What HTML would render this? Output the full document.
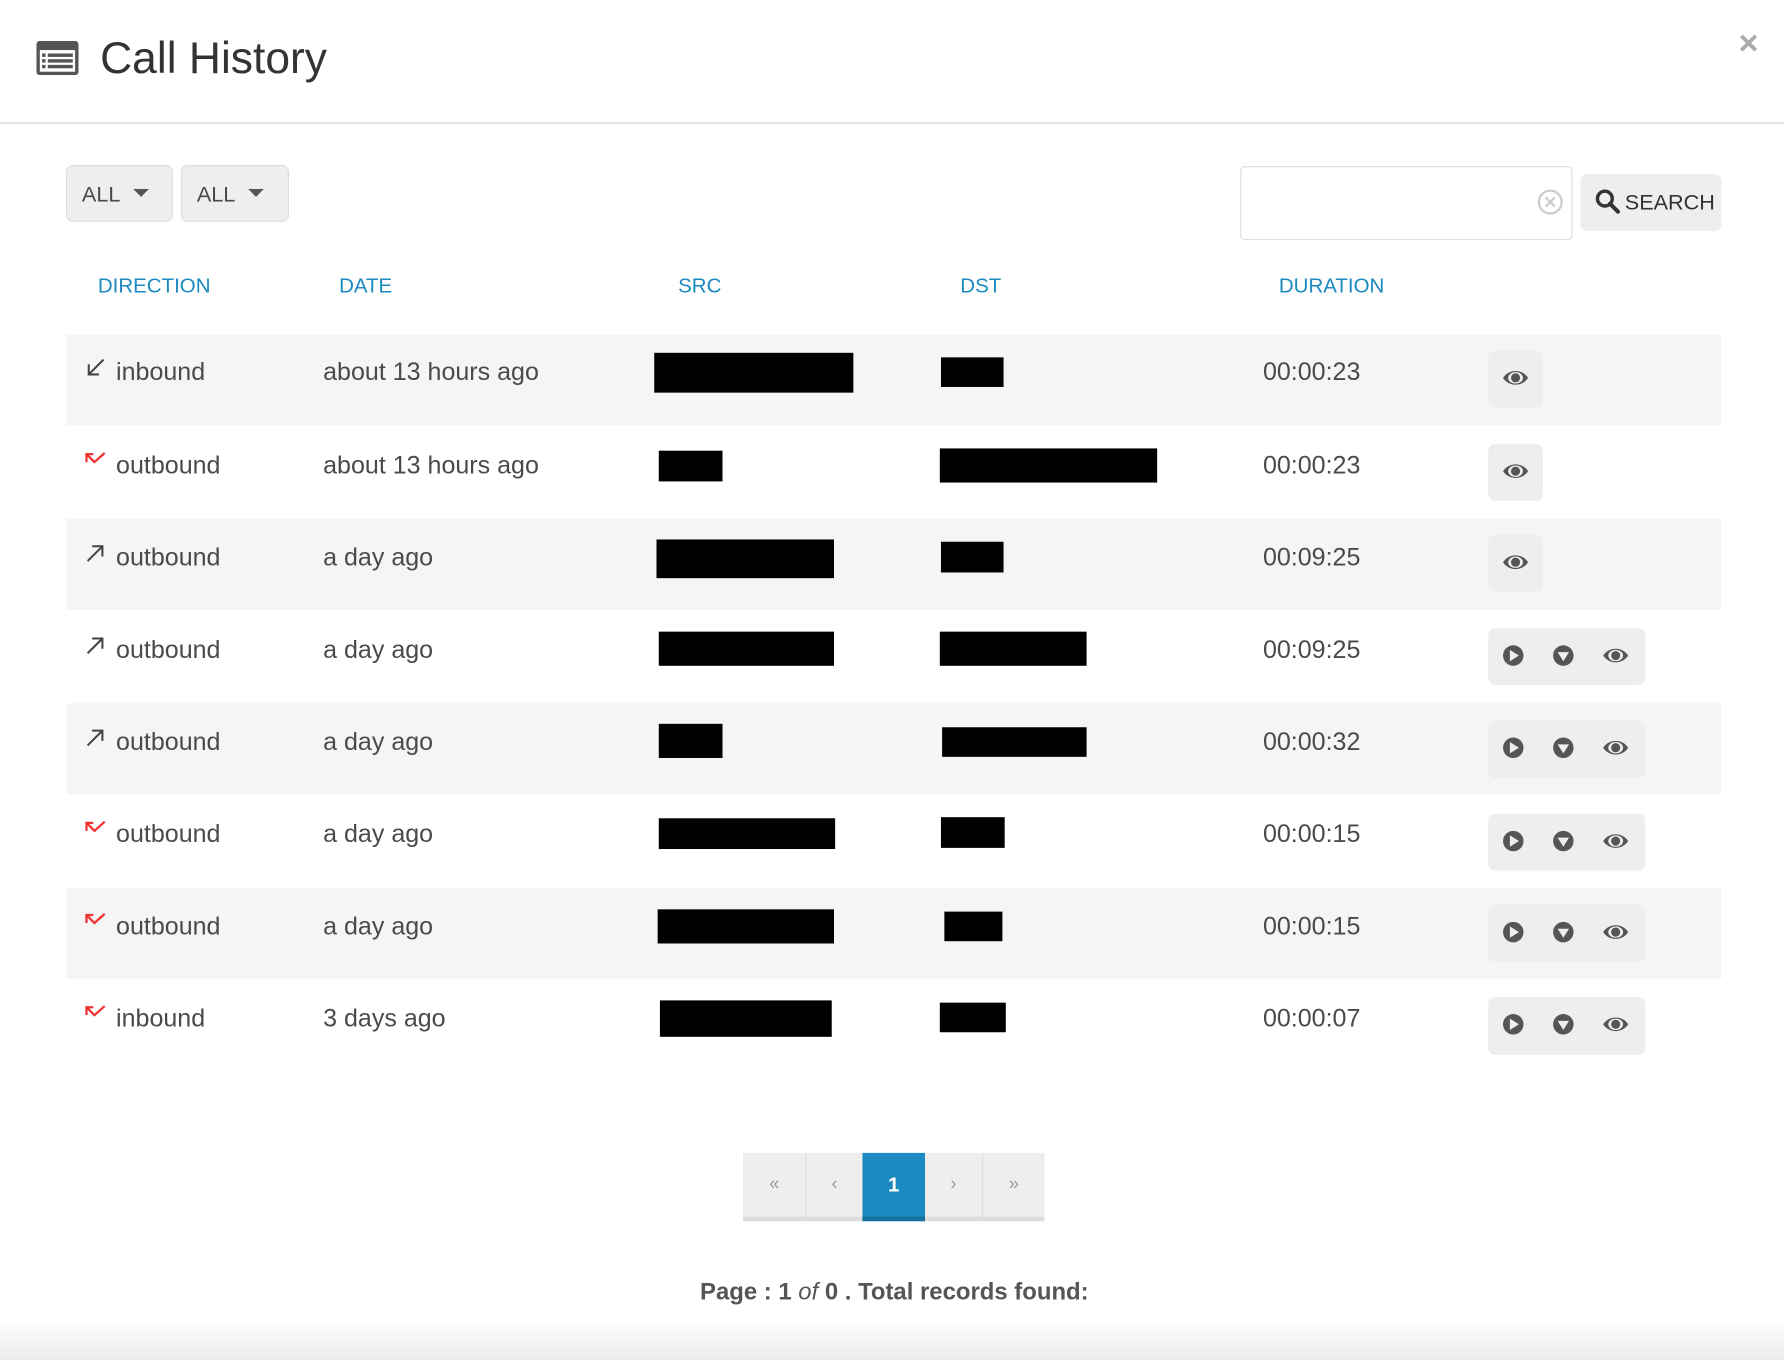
<!DOCTYPE html>
<html><head><meta charset="utf-8"><style>
html,body{margin:0;padding:0;background:#fff;overflow:hidden}
body{width:1784px;height:1360px;position:relative}
#w{position:absolute;left:0;top:0;width:1568px;height:1195px;transform:scale(1.1378,1.1381);transform-origin:0 0;font-family:"Liberation Sans",sans-serif;color:#444}
.a{position:absolute}
.t{position:absolute;font-size:22px;color:#4a4a4a;line-height:26px;white-space:nowrap}
.h{position:absolute;font-size:18px;color:#1a8ac0;top:241px}
.k{position:absolute;background:#000}
.stripe{position:absolute;left:58px;width:1455px;background:#f5f5f5}
.btn{position:absolute;background:#eee;border-radius:6px}
.pg{position:absolute;top:1013px;height:60px;background:#eee;border-bottom:4px solid #ddd;color:#999;font-size:16px;text-align:center;line-height:56px;box-sizing:border-box}
</style></head><body><div id="w">
<svg class="a" style="left:32px;top:36px" width="37" height="30"><rect x="0" y="0" width="37" height="30" rx="3" fill="#555"/><rect x="3" y="8" width="31" height="19" fill="#fff"/><g fill="#555"><rect x="5" y="11" width="3" height="3"/><rect x="10" y="11" width="22" height="3"/><rect x="5" y="16" width="3" height="3"/><rect x="10" y="16" width="22" height="3"/><rect x="5" y="21" width="3" height="3"/><rect x="10" y="21" width="22" height="3"/></g></svg>
<div class="a" style="left:88px;top:30px;font-size:39px;color:#333">Call History</div>
<div class="a" style="left:1528px;top:22px;font-size:30px;color:#aaa;font-weight:bold">×</div>
<div class="a" style="left:0;top:107px;width:1568px;height:2px;background:#e5e5e5"></div>

<div class="btn" style="left:58px;top:145px;width:94px;height:50px;border:1px solid #ddd;box-sizing:border-box"></div>
<div class="t" style="left:72px;top:159px;font-size:19px">ALL</div>
<svg class="a" style="left:117px;top:166px" width="14" height="8"><polygon points="0,0 14,0 7,7" fill="#555"/></svg>
<div class="btn" style="left:159px;top:145px;width:95px;height:50px;border:1px solid #ddd;box-sizing:border-box"></div>
<div class="t" style="left:173px;top:159px;font-size:19px">ALL</div>
<svg class="a" style="left:218px;top:166px" width="14" height="8"><polygon points="0,0 14,0 7,7" fill="#555"/></svg>

<div class="a" style="left:1090px;top:146px;width:292px;height:65px;border:1px solid #ddd;border-radius:4px;box-sizing:border-box"></div>
<svg class="a" style="left:1351px;top:166px" width="23" height="23"><circle cx="11.5" cy="11.5" r="10" fill="none" stroke="#ccc" stroke-width="2"/><path d="M7.5 7.5L15.5 15.5M15.5 7.5L7.5 15.5" stroke="#ccc" stroke-width="2"/></svg>
<div class="btn" style="left:1389px;top:153px;width:124px;height:50px"></div>
<svg class="a" style="left:1402px;top:166px" width="22" height="22"><circle cx="8.5" cy="8.5" r="6.5" fill="none" stroke="#333" stroke-width="3"/><path d="M13 13L20 20" stroke="#333" stroke-width="3.5" stroke-linecap="round"/></svg>
<div class="t" style="left:1428px;top:166px;font-size:19px;color:#333">SEARCH</div>

<div class="h" style="left:86px">DIRECTION</div>
<div class="h" style="left:298px">DATE</div>
<div class="h" style="left:596px">SRC</div>
<div class="h" style="left:844px">DST</div>
<div class="h" style="left:1124px">DURATION</div>

<div class="stripe" style="top:294px;height:80px"></div>
<div class="stripe" style="top:456px;height:80px"></div>
<div class="stripe" style="top:618px;height:80px"></div>
<div class="stripe" style="top:780px;height:80px"></div>

<svg class="a" style="left:74px;top:313px" width="20" height="20"><path d="M17 3L4 16M4 7V16H13" fill="none" stroke="#444" stroke-width="1.8"/></svg>
<svg class="a" style="left:74px;top:476px" width="20" height="20"><path d="M3 17L16 4M7 4H16V13" fill="none" stroke="#444" stroke-width="1.8"/></svg>
<svg class="a" style="left:74px;top:557px" width="20" height="20"><path d="M3 17L16 4M7 4H16V13" fill="none" stroke="#444" stroke-width="1.8"/></svg>
<svg class="a" style="left:74px;top:638px" width="20" height="20"><path d="M3 17L16 4M7 4H16V13" fill="none" stroke="#444" stroke-width="1.8"/></svg>
<svg class="a" style="left:74px;top:397px" width="20" height="16"><path d="M2 9V2H8M2 2L9 9L18 1" fill="none" stroke="#e33" stroke-width="2"/></svg>
<svg class="a" style="left:74px;top:721px" width="20" height="16"><path d="M2 9V2H8M2 2L9 9L18 1" fill="none" stroke="#e33" stroke-width="2"/></svg>
<svg class="a" style="left:74px;top:802px" width="20" height="16"><path d="M2 9V2H8M2 2L9 9L18 1" fill="none" stroke="#e33" stroke-width="2"/></svg>
<svg class="a" style="left:74px;top:883px" width="20" height="16"><path d="M2 9V2H8M2 2L9 9L18 1" fill="none" stroke="#e33" stroke-width="2"/></svg>

<div class="t" style="left:102px;top:314px">inbound</div><div class="t" style="left:284px;top:314px">about 13 hours ago</div><div class="t" style="left:1110px;top:314px">00:00:23</div>
<div class="t" style="left:102px;top:396px">outbound</div><div class="t" style="left:284px;top:396px">about 13 hours ago</div><div class="t" style="left:1110px;top:396px">00:00:23</div>
<div class="t" style="left:102px;top:477px">outbound</div><div class="t" style="left:284px;top:477px">a day ago</div><div class="t" style="left:1110px;top:477px">00:09:25</div>
<div class="t" style="left:102px;top:558px">outbound</div><div class="t" style="left:284px;top:558px">a day ago</div><div class="t" style="left:1110px;top:558px">00:09:25</div>
<div class="t" style="left:102px;top:639px">outbound</div><div class="t" style="left:284px;top:639px">a day ago</div><div class="t" style="left:1110px;top:639px">00:00:32</div>
<div class="t" style="left:102px;top:720px">outbound</div><div class="t" style="left:284px;top:720px">a day ago</div><div class="t" style="left:1110px;top:720px">00:00:15</div>
<div class="t" style="left:102px;top:801px">outbound</div><div class="t" style="left:284px;top:801px">a day ago</div><div class="t" style="left:1110px;top:801px">00:00:15</div>
<div class="t" style="left:102px;top:882px">inbound</div><div class="t" style="left:284px;top:882px">3 days ago</div><div class="t" style="left:1110px;top:882px">00:00:07</div>

<div class="k" style="left:575px;top:310px;width:175px;height:35px"></div><div class="k" style="left:827px;top:314px;width:55px;height:26px"></div>
<div class="k" style="left:579px;top:396px;width:56px;height:27px"></div><div class="k" style="left:826px;top:394px;width:191px;height:30px"></div>
<div class="k" style="left:577px;top:474px;width:156px;height:34px"></div><div class="k" style="left:827px;top:476px;width:55px;height:27px"></div>
<div class="k" style="left:579px;top:555px;width:154px;height:30px"></div><div class="k" style="left:826px;top:555px;width:129px;height:30px"></div>
<div class="k" style="left:579px;top:636px;width:56px;height:30px"></div><div class="k" style="left:828px;top:639px;width:127px;height:26px"></div>
<div class="k" style="left:579px;top:719px;width:155px;height:27px"></div><div class="k" style="left:827px;top:718px;width:56px;height:27px"></div>
<div class="k" style="left:578px;top:799px;width:155px;height:30px"></div><div class="k" style="left:830px;top:801px;width:51px;height:26px"></div>
<div class="k" style="left:580px;top:879px;width:151px;height:32px"></div><div class="k" style="left:826px;top:881px;width:58px;height:26px"></div>

<svg width="0" height="0" style="position:absolute"><defs>
<g id="eye"><path d="M0 0C5-8 17-8 22 0C17 8 5 8 0 0Z" fill="#555"/><ellipse cx="11" cy="0" rx="6.5" ry="5" fill="#eee"/><circle cx="11" cy="0" r="4" fill="#555"/></g>
<g id="play"><circle cx="0" cy="0" r="9" fill="#555"/><polygon points="-3,-5 5,0 -3,5" fill="#eee"/></g>
<g id="dn"><circle cx="0" cy="0" r="9" fill="#555"/><polygon points="-5,-3 5,-3 0,5" fill="#eee"/></g>
</defs></svg>

<div class="btn" style="left:1308px;top:308px;width:48px;height:50px"></div>
<div class="btn" style="left:1308px;top:390px;width:48px;height:50px"></div>
<div class="btn" style="left:1308px;top:470px;width:48px;height:50px"></div>
<svg class="a" style="left:1321px;top:320px" width="24" height="24"><use href="#eye" x="0" y="12"/></svg>
<svg class="a" style="left:1321px;top:402px" width="24" height="24"><use href="#eye" x="0" y="12"/></svg>
<svg class="a" style="left:1321px;top:482px" width="24" height="24"><use href="#eye" x="0" y="12"/></svg>

<div class="btn" style="left:1308px;top:552px;width:138px;height:50px"></div>
<div class="btn" style="left:1308px;top:633px;width:138px;height:51px"></div>
<div class="btn" style="left:1308px;top:715px;width:138px;height:50px"></div>
<div class="btn" style="left:1308px;top:795px;width:138px;height:50px"></div>
<div class="btn" style="left:1308px;top:876px;width:138px;height:51px"></div>
<svg class="a" style="left:1308px;top:552px" width="138" height="400">
<g transform="translate(0,24)"><use href="#play" x="22" y="0"/><use href="#dn" x="66" y="0"/><use href="#eye" x="101" y="0"/></g>
<g transform="translate(0,105)"><use href="#play" x="22" y="0"/><use href="#dn" x="66" y="0"/><use href="#eye" x="101" y="0"/></g>
<g transform="translate(0,187)"><use href="#play" x="22" y="0"/><use href="#dn" x="66" y="0"/><use href="#eye" x="101" y="0"/></g>
<g transform="translate(0,267)"><use href="#play" x="22" y="0"/><use href="#dn" x="66" y="0"/><use href="#eye" x="101" y="0"/></g>
<g transform="translate(0,348)"><use href="#play" x="22" y="0"/><use href="#dn" x="66" y="0"/><use href="#eye" x="101" y="0"/></g>
</svg>

<div class="pg" style="left:653px;width:55px">«</div>
<div class="pg" style="left:708px;width:50px;border-left:1px solid #ddd">‹</div>
<div class="pg" style="left:758px;width:55px;background:#1a8ac0;border-bottom-color:#136f9c;color:#fff;font-weight:bold;font-size:18px">1</div>
<div class="pg" style="left:813px;width:50px">›</div>
<div class="pg" style="left:863px;width:55px;border-left:1px solid #ddd">»</div>

<div class="a" style="left:0;top:1124px;width:1568px;text-align:center;font-size:21px;font-weight:bold;color:#555;padding-left:2px">Page : 1 <i style="font-weight:normal">of</i> 0 . Total records found:</div>
<div class="a" style="left:0;top:1158px;width:1568px;height:37px;background:linear-gradient(#fff,#ececec)"></div>
</div></body></html>
